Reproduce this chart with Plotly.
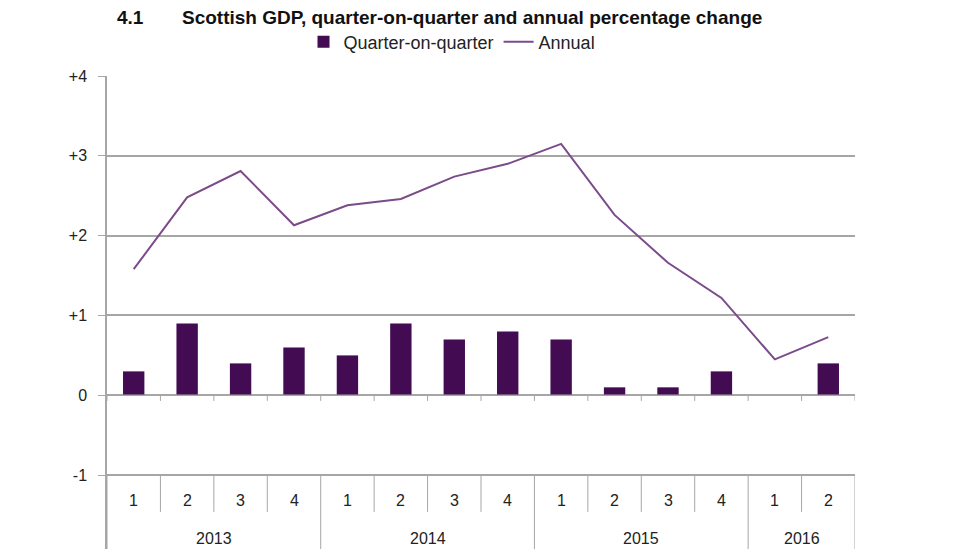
import plotly.graph_objects as go

years = ["2013", "2014", "2015", "2016"]
quarters_per_year = [4, 4, 4, 2]
quarter_labels = ["1", "2", "3", "4", "1", "2", "3", "4", "1", "2", "3", "4", "1", "2"]
qoq = [0.3, 0.9, 0.4, 0.6, 0.5, 0.9, 0.7, 0.8, 0.7, 0.1, 0.1, 0.3, 0.0, 0.4]
annual = [1.58, 2.48, 2.81, 2.13, 2.38, 2.46, 2.74, 2.90, 3.15, 2.26, 1.66, 1.22, 0.45, 0.73]
y_ticks = [-1, 0, 1, 2, 3, 4]
y_ticktext = ["-1", "0", "+1", "+2", "+3", "+4"]

BAR = "#420b52"
LINE = "#7b4b8a"
GRID = "#a6a6a6"
FONT = "Liberation Sans Narrow, Liberation Sans, Arial"

n = len(qoq)
xs = list(range(n))

fig = go.Figure()
fig.add_trace(go.Bar(x=xs, y=qoq, name="Quarter-on-quarter", width=0.4,
                     marker=dict(color=BAR, line=dict(width=0))))
fig.add_trace(go.Scatter(x=xs, y=annual, name="Annual", mode="lines",
                         line=dict(color=LINE, width=2)))

shapes = []
ymin = -1.925
row1 = -1.46
# zero axis line
shapes.append(dict(type="line", xref="x", yref="y", x0=-0.5, x1=n - 0.5, y0=0, y1=0,
                   line=dict(color=GRID, width=1.5)))
# ticks at zero axis on boundaries
for i in range(n + 1):
    shapes.append(dict(type="line", xref="x", yref="y", x0=i - 0.5, x1=i - 0.5, y0=0, y1=-0.07,
                       line=dict(color=GRID, width=1)))
# table boundaries
year_bounds = [0]
for q in quarters_per_year:
    year_bounds.append(year_bounds[-1] + q)
for i in range(n + 1):
    y0b = ymin if i in year_bounds else row1
    shapes.append(dict(type="line", xref="x", yref="y", x0=i - 0.5, x1=i - 0.5, y0=-1, y1=y0b,
                       line=dict(color=GRID, width=1)))

annotations = []
for i, lab in enumerate(quarter_labels):
    annotations.append(dict(x=i, y=-1.32, xref="x", yref="y", text=lab, showarrow=False,
                            font=dict(family=FONT, size=16, color="#222222")))
for k, yr in enumerate(years):
    cx = (year_bounds[k] + year_bounds[k + 1] - 1) / 2
    annotations.append(dict(x=cx, y=-1.79, xref="x", yref="y", text=yr, showarrow=False,
                            font=dict(family=FONT, size=16, color="#222222")))

TITLE_Y = 1.1247
annotations.append(dict(x=(115 - 107) / 748, y=TITLE_Y, xref="paper", yref="paper", text="<b>4.1</b>",
                        showarrow=False, xanchor="left", yanchor="middle",
                        font=dict(family="Liberation Sans, Arial", size=19, color="#111111")))
annotations.append(dict(x=(180 - 107) / 748, y=TITLE_Y, xref="paper", yref="paper",
                        text="<b>Scottish GDP, quarter-on-quarter and annual percentage change</b>",
                        showarrow=False, xanchor="left", yanchor="middle",
                        font=dict(family="Liberation Sans, Arial", size=19, color="#111111")))

fig.update_layout(
    width=968, height=541,
    margin=dict(l=99, r=121, t=68, b=0, autoexpand=False),
    paper_bgcolor="white", plot_bgcolor="white",
    showlegend=True,
    legend=dict(orientation="h", x=(452 - 107) / 748, xanchor="center", y=1.072, yanchor="middle",
                font=dict(family=FONT, size=18, color="#222222"), bgcolor="rgba(0,0,0,0)",
                traceorder="normal", itemwidth=30),
    xaxis=dict(range=[-0.5, n - 0.5], showgrid=False, showticklabels=False, zeroline=False,
               showline=False, ticks=""),
    yaxis=dict(range=[ymin, 4], tickvals=y_ticks, ticktext=y_ticktext, showgrid=True,
               gridcolor=GRID, gridwidth=1.5, zeroline=False, showline=True, linecolor=GRID,
               linewidth=1.5, ticks="outside", ticklen=7, tickcolor=GRID,
               ticklabelstandoff=8,
               tickfont=dict(family=FONT, size=16, color="#222222")),
    shapes=shapes,
    annotations=annotations,
)

fig.write_html("out.html")
